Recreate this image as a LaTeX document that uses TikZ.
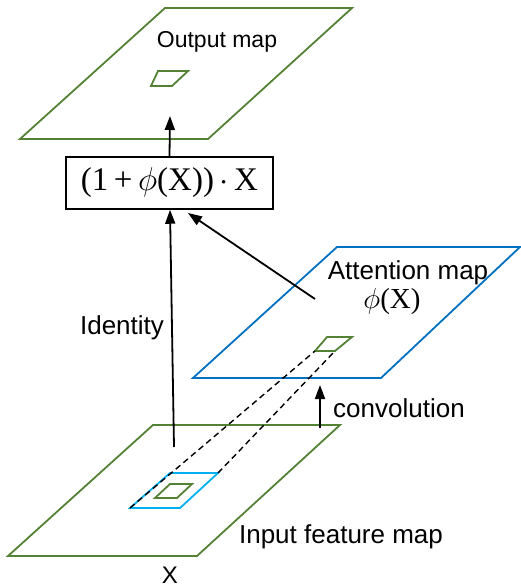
\RequirePackage{fix-cm}
\documentclass[tikz,border=0pt]{standalone}
\usepackage{fontspec}
\setmainfont{Liberation Serif}
\setsansfont{Liberation Sans}
\usetikzlibrary{arrows.meta}

\definecolor{mapgreen}{RGB}{84,130,53}
\definecolor{mapblue}{RGB}{0,112,192}
\definecolor{mapcyan}{RGB}{0,176,240}

\begin{document}
\begin{tikzpicture}[x=1pt, y=-1pt, >={Triangle[length=14pt,width=10pt]},
  every node/.style={font=\sffamily\fontsize{26}{30}\selectfont},
  map/.style={line width=1.8pt},
  conn/.style={line width=1.8pt, ->}]
  \useasboundingbox (0,0) rectangle (521,588);
  % output map
  \draw[map, mapgreen] (165,8) -- (352,8) -- (208,139) -- (20,139) -- cycle;
  \draw[map, mapgreen] (158,71) -- (188,71) -- (172,86) -- (151,86) -- cycle;
  \node[font=\sffamily\fontsize{23}{27}\selectfont] (outlbl) at (217,42) {Output map};
  \coordinate (outin) at (170,116);
  % product box
  \node[draw, line width=1.5pt, minimum width=207pt, minimum height=52pt, inner sep=0pt,
    font=\rmfamily\fontsize{33}{38}\selectfont] (prod) at (169.5,183) {(1\,+\,$\phi$(X))\,$\cdot$\,X};
  \draw[conn] (prod.north) -- (outin);
  % attention map
  \draw[map, mapblue] (337,247) -- (520,247) -- (381,378) -- (193,378) -- cycle;
  \draw[map, mapgreen] (327,337) coordinate (at1) -- (352,337) -- (335,351) coordinate (at3) -- (315,351) coordinate (at4) -- cycle;
  \node (attlbl) at (408,273) {Attention map};
  \node[font=\rmfamily\fontsize{29}{33}\selectfont] (phi) at (392,302) {$\phi$(X)};
  \coordinate (attout) at (315,299);
  \coordinate (prodin) at (188,213);
  \draw[conn] (attout) -- (prodin);
  % input feature map
  \draw[map, mapgreen] (153,425) -- (340,425) -- (197,556) -- (8,556) -- cycle;
  \draw[map, mapcyan] (170,473) -- (218,473) coordinate (cy2) -- (180,508) -- (130,508) coordinate (cy4) -- cycle;
  \draw[map, mapgreen] (170,484) -- (192,484) -- (177,498) -- (155,498) -- cycle;
  \draw[line width=1.4pt, dash pattern=on 6pt off 4pt] (cy4) -- (at4) (cy2) -- (at3);
  \node (inlbl) at (341,537) {Input feature map};
  \node[font=\sffamily\fontsize{24}{28}\selectfont] (x) at (170,575) {X};
  \coordinate (idfrom) at (174,447);
  \draw[conn] (idfrom) -- (prod.south -| 170,0);
  \node (idlbl) at (122,328) {Identity};
  \coordinate (convfrom) at (320,428);
  \coordinate (convto) at (320,385);
  \draw[conn] (convfrom) -- (convto) node[right=9pt, pos=0.45] (convlbl) {convolution};
\end{tikzpicture}
\end{document}
